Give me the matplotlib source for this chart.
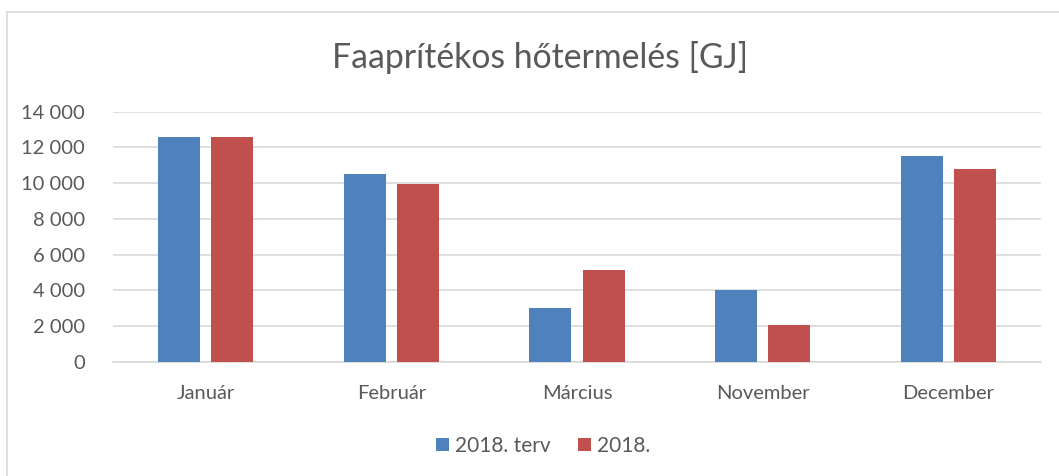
import matplotlib.pyplot as plt
import numpy as np
from matplotlib.patches import Rectangle

months = ['Január', 'Február', 'Március', 'November', 'December']
terv_2018 = [12560, 10500, 3000, 4000, 11500]
teny_2018 = [12560, 9930, 5150, 2040, 10770]
series_names = ['2018. terv', '2018.']
yticks = [0, 2000, 4000, 6000, 8000, 10000, 12000, 14000]

plt.rcParams['font.family'] = ['Lato', 'DejaVu Sans']
text_color = '#595959'
blue = '#4f81bd'
red = '#c0504d'

W, H = 1059, 476
fig = plt.figure(figsize=(W / 100, H / 100), dpi=100)

# outer chart border (right and bottom edges fall outside the image)
fig.patches.append(Rectangle((7 / W, -0.1), 1.2, 1.1 - 12 / H, transform=fig.transFigure,
                             fill=False, edgecolor='#d9d9d9', linewidth=1.2))

ax = fig.add_axes([113 / W, 1 - 361.7 / H, (1041 - 113) / W, 250 / H])

x = np.arange(len(months))
w = 0.226
off = 0.143
ax.bar(x - off, terv_2018, w, color=blue, label=series_names[0], zorder=3)
ax.bar(x + off, teny_2018, w, color=red, label=series_names[1], zorder=3)

ax.set_xlim(-0.5, len(months) - 0.5)
ax.set_ylim(0, 14000)
ax.set_yticks(yticks)
ax.set_yticklabels([f'{v:,}'.replace(',', ' ') for v in yticks])
ax.set_xticks(x)
ax.set_xticklabels(months)
ax.tick_params(axis='both', length=0, labelsize=14.5, colors=text_color)
ax.tick_params(axis='y', pad=20)
ax.tick_params(axis='x', pad=17)
ax.grid(axis='y', color='#d9d9d9', linewidth=1.2, zorder=0)
for s in ['top', 'right', 'left']:
    ax.spines[s].set_visible(False)
ax.spines['bottom'].set_color('#d9d9d9')
ax.spines['bottom'].set_linewidth(1.2)

fig.text(540 / W, 1 - 58 / H, 'Faaprítékos hőtermelés [GJ]', ha='center', va='center',
         fontsize=24.3, color=text_color)

leg = fig.legend(loc='center', bbox_to_anchor=(543 / W, 1 - 446 / H), ncol=2, frameon=False,
                 fontsize=15, handlelength=0.62, handleheight=0.62, handletextpad=0.3,
                 columnspacing=1.3)
for t in leg.get_texts():
    t.set_color(text_color)

fig.savefig('out.png', dpi=100, facecolor='white')
